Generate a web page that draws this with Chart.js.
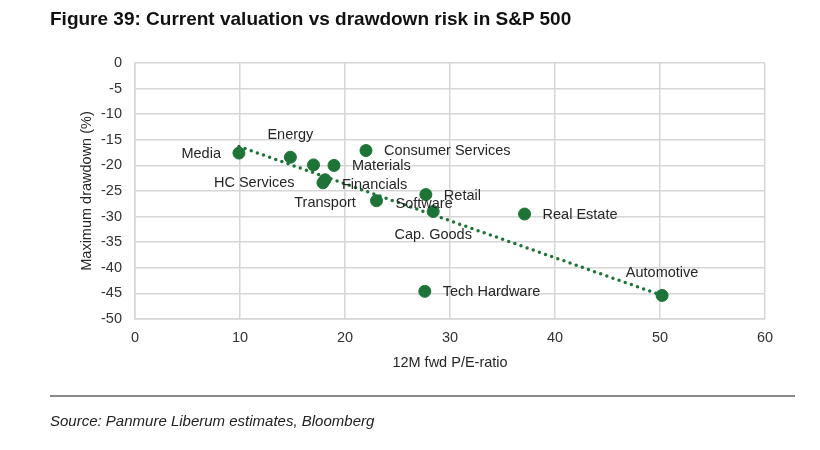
<!DOCTYPE html>
<html>
<head>
<meta charset="utf-8">
<script src="https://cdn.jsdelivr.net/npm/chart.js@4/dist/chart.umd.min.js"></script>
<style>
  body { margin: 0; background: #fff; font-family: "Liberation Sans", Arial, sans-serif; }
  #wrap { position: relative; width: 820px; height: 450px; }
  #titulo { position: absolute; left: 50px; top: 8px; font-size: 19px; font-weight: bold; color: #111; white-space: nowrap; }
  #regua { position: absolute; left: 50px; top: 395px; width: 745px; height: 2px; background: #8a8a8a; }
  #fonte { position: absolute; left: 50px; top: 412px; font-size: 15px; font-style: italic; color: #222; white-space: nowrap; }
  canvas { position: absolute; left: 0; top: 0; }
</style>
</head>
<body>
<div id="wrap">
  <canvas id="grafico" width="820" height="450"></canvas>
  <div id="titulo">Figure 39: Current valuation vs drawdown risk in S&amp;P 500</div>
  <div id="regua"></div>
  <div id="fonte">Source: Panmure Liberum estimates, Bloomberg</div>
</div>
<script>
/* =========================
   Valuation vs drawdown
========================= */

const SETORES = [
  'Media', 'Energy', 'HC Services', 'Materials', 'Transport', 'Financials',
  'Consumer Services', 'Software', 'Retail', 'Cap. Goods', 'Real Estate',
  'Tech Hardware', 'Automotive'
];
const PE = [9.9, 14.8, 17.0, 18.95, 18.1, 17.9, 22.0, 23.0, 27.7, 28.4, 37.1, 27.6, 50.2];
const DRAWDOWN = [-17.6, -18.4, -19.9, -20.0, -22.8, -23.4, -17.1, -26.9, -25.7, -29.0, -29.5, -44.6, -45.4];

// trendline endpoints
const TREND_X = [9.9, 50.2];
const TREND_Y = [-16.3, -45.4];

const X_TICKS = [0, 10, 20, 30, 40, 50, 60];
const Y_TICKS = [0, -5, -10, -15, -20, -25, -30, -35, -40, -45, -50];

// label placement per point: [dx, dy, align]
const POS_LABEL = [
  [-18, 1, 'right'], [0, -22, 'center'], [-19, 18, 'right'], [18, 1, 'left'],
  [0, 23, 'center'], [19, 2, 'left'], [18, 0, 'left'], [19, 3, 'left'],
  [18, 1, 'left'], [0, 24, 'center'], [18, 1, 'left'], [18, 1, 'left'],
  [0, -22, 'center']
];

const VERDE = '#1d7436';
const FONTE = '"Liberation Sans", Arial, sans-serif';

const pluginLabels = {
  id: 'labelsSetores',
  afterDatasetsDraw(chart) {
    const meta = chart.getDatasetMeta(1);
    const ctx = chart.ctx;
    ctx.save();
    ctx.font = '14.5px ' + FONTE;
    ctx.fillStyle = '#262626';
    ctx.textBaseline = 'middle';
    meta.data.forEach((pt, i) => {
      const p = POS_LABEL[i];
      ctx.textAlign = p[2];
      ctx.fillText(SETORES[i], pt.x + p[0], pt.y + p[1]);
    });
    ctx.restore();
  }
};

new Chart(document.getElementById('grafico'), {
  type: 'scatter',
  data: {
    datasets: [
      {
        type: 'line',
        data: TREND_X.map((x, i) => ({ x, y: TREND_Y[i] })),
        borderColor: VERDE,
        borderWidth: 3.5,
        borderDash: [0, 6.5],
        borderCapStyle: 'round',
        pointRadius: 0,
        fill: false,
        order: 2
      },
      {
        data: PE.map((x, i) => ({ x, y: DRAWDOWN[i] })),
        backgroundColor: VERDE,
        borderColor: VERDE,
        pointRadius: 6,
        pointHoverRadius: 6,
        order: 1
      }
    ]
  },
  options: {
    responsive: false,
    animation: false,
    events: [],
    layout: { padding: { left: 0, top: 63, right: 55, bottom: 78 } },
    plugins: { legend: { display: false }, tooltip: { enabled: false } },
    scales: {
      x: {
        type: 'linear', min: 0, max: 60,
        afterBuildTicks: s => { s.ticks = X_TICKS.map(v => ({ value: v })); },
        afterFit: s => { s.height = 53; },
        grid: { color: '#d6d6d6', lineWidth: 1.5, drawTicks: false },
        border: { color: '#d6d6d6', width: 1.5 },
        ticks: { color: '#333', padding: 10, font: { family: FONTE, size: 14.5 } },
        title: {
          display: true, text: '12M fwd P/E-ratio', color: '#262626',
          padding: { top: 0, bottom: 0 }, font: { family: FONTE, size: 14.5 }
        }
      },
      y: {
        type: 'linear', min: -50, max: 0,
        afterBuildTicks: s => { s.ticks = Y_TICKS.map(v => ({ value: v })); },
        afterFit: s => { s.width = 135; },
        grid: { color: '#d6d6d6', lineWidth: 1.5, drawTicks: false },
        border: { color: '#d6d6d6', width: 1.5 },
        ticks: { color: '#333', padding: 13, font: { family: FONTE, size: 14.5 } },
        title: {
          display: true, text: 'Maximum drawdown (%)', color: '#262626',
          padding: { top: 78, bottom: 0 }, font: { family: FONTE, size: 14.5 }
        }
      }
    }
  },
  plugins: [pluginLabels]
});
</script>
</body>
</html>
